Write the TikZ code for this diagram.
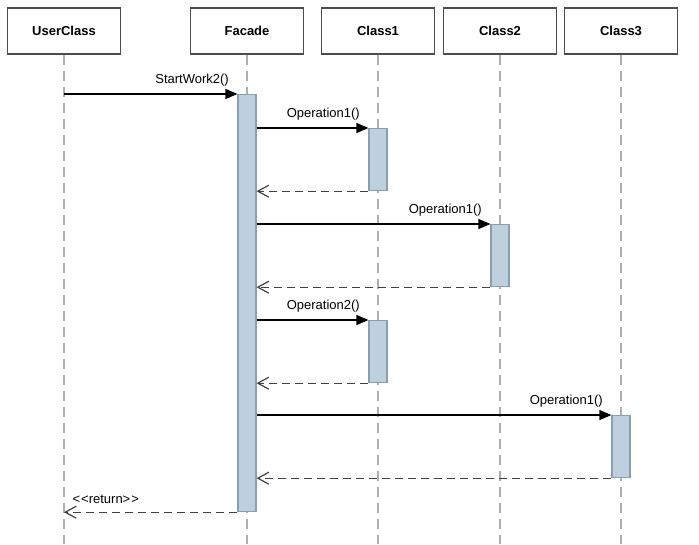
\documentclass[tikz,border=0pt]{standalone}
\usepackage{fontspec}
\setmainfont{Liberation Sans}
\usetikzlibrary{positioning,arrows.meta}
\definecolor{actfill}{RGB}{190,207,221}
\definecolor{actline}{RGB}{138,158,178}
\definecolor{lifegray}{RGB}{175,175,175}

\begin{document}
\begin{tikzpicture}[x=1pt,y=-1pt,line width=1.2pt,
  cls/.style={draw=black!70,fill=white,minimum width=113pt,minimum height=46pt,inner sep=0pt,font=\bfseries\fontsize{13}{15}\selectfont},
  act/.style={draw=actline,fill=actfill,minimum width=18pt,inner sep=0pt,anchor=north},
  life/.style={draw=lifegray,dash pattern=on 10pt off 6pt},
  call/.style={-{Triangle[length=12pt,width=10pt]},black},
  ret/.style={-{Straight Barb[length=11pt,width=12pt]},black!75,dash pattern=on 8pt off 5pt},
  msg/.style={font=\fontsize{13}{15}\selectfont,inner sep=0pt,text=black}]
\useasboundingbox (0,0) rectangle (699,544);
\node[cls] (user) at (64,31) {UserClass};
\node[cls] (fac) at (247,31) {Facade};
\node[cls] (cla) at (378,31) {Class1};
\node[cls] (clb) at (500,31) {Class2};
\node[cls] (clc) at (621,31) {Class3};
\coordinate (bot) at (0,544);
%
\foreach \n in {user,fac,cla,clb,clc}
  \draw[life] (\n.south) -- (\n.south |- bot);
%
\node[act,minimum height=417pt] (fa) at (247,94) {};
\node[act,minimum height=62pt] (ca1) at (378,128) {};
\node[act,minimum height=62pt] (cb1) at (500,224) {};
\node[act,minimum height=62pt] (ca2) at (378,320) {};
\node[act,minimum height=62pt] (cc1) at (621,415) {};
%
\draw[call] (user |- fa.north) -- (fa.north west)
  node[msg,anchor=south east,xshift=-8pt,yshift=7pt] {StartWork2()};
\foreach \t/\m in {ca1/Operation1(),cb1/Operation1(),ca2/Operation2(),cc1/Operation1()}{
  \draw[call] (fa.east |- \t.north) -- (\t.north west)
    node[msg,anchor=south east,xshift=-8pt,yshift=7pt] {\m};
  \draw[ret] (\t.south west) -- (fa.east |- \t.south);
}
\draw[ret] (fa.south west) -- (user |- fa.south)
  node[msg,anchor=south west,xshift=8pt,yshift=8pt] {<\kern1pt<return>\kern1pt>};
\end{tikzpicture}
\end{document}
